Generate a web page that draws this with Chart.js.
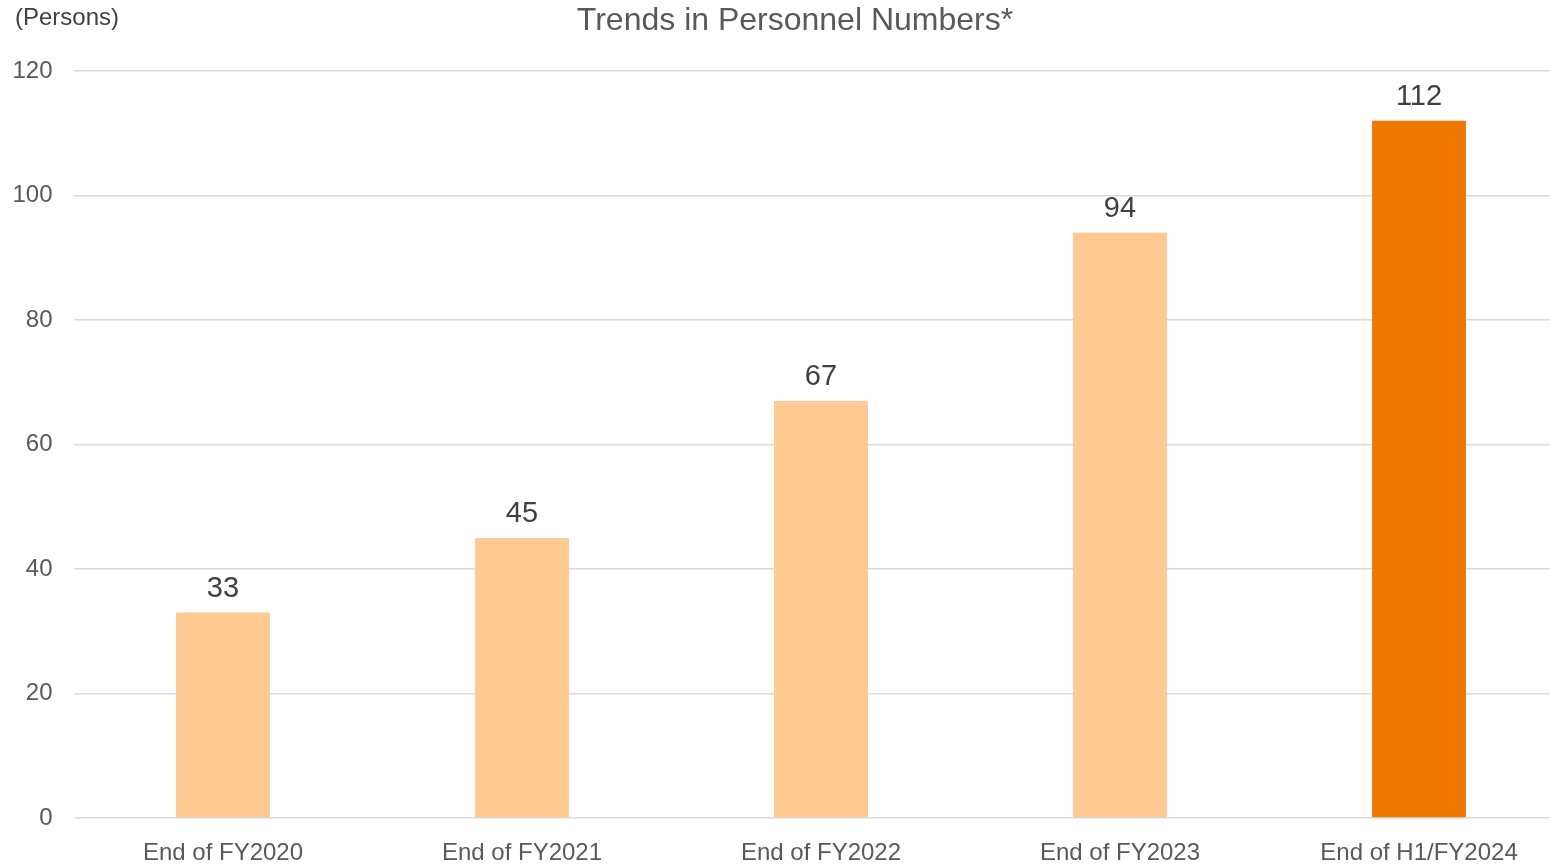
<!DOCTYPE html>
<html>
<head>
<meta charset="utf-8">
<script src="https://cdn.jsdelivr.net/npm/chart.js@4/dist/chart.umd.min.js"></script>
<style>
  html, body { margin: 0; padding: 0; background: #fff; }
  #wrap { width: 1550px; height: 864px; position: relative; }
</style>
</head>
<body>
<div id="wrap"><canvas id="c"></canvas></div>
<script>
const categories = ['End of FY2020', 'End of FY2021', 'End of FY2022', 'End of FY2023', 'End of H1/FY2024'];
const personnel = [33, 45, 67, 94, 112];
const barColors = ['#FFC992', '#FFC992', '#FFC992', '#FFC992', '#EE7700'];
const yTicks = [0, 20, 40, 60, 80, 100, 120];
const titleText = 'Trends in Personnel Numbers*';
const unitText = '(Persons)';

const FONT = '"Liberation Sans", Arial, sans-serif';
const CATEGORY_WIDTH = 299;

// The category band runs a little past the right edge of the canvas
const widenX = {
  id: 'widenX',
  afterLayout(chart) {
    const x = chart.scales.x;
    x.right = x.left + CATEGORY_WIDTH * categories.length;
    x.width = x.right - x.left;
    x.configure();
  }
};

// Value labels above each bar and the header texts
const annotate = {
  id: 'annotate',
  afterDatasetsDraw(chart) {
    const ctx = chart.ctx;
    ctx.save();
    ctx.fillStyle = '#404040';
    ctx.font = '29px ' + FONT;
    ctx.textAlign = 'center';
    ctx.textBaseline = 'alphabetic';
    chart.getDatasetMeta(0).data.forEach((bar, i) => {
      ctx.fillText(String(personnel[i]), bar.x, bar.y - 16);
    });
    ctx.fillStyle = '#595959';
    ctx.font = '32px ' + FONT;
    ctx.textBaseline = 'middle';
    ctx.fillText(titleText, 795, 21);
    ctx.fillStyle = '#404040';
    ctx.font = '24px ' + FONT;
    ctx.textAlign = 'left';
    ctx.fillText(unitText, 15, 18);
    ctx.restore();
  }
};

new Chart(document.getElementById('c'), {
  type: 'bar',
  data: {
    labels: categories,
    datasets: [{
      data: personnel,
      backgroundColor: barColors,
      borderWidth: 0,
      categoryPercentage: 1,
      barPercentage: 0.314
    }]
  },
  options: {
    responsive: true,
    maintainAspectRatio: false,
    animation: false,
    layout: { padding: { top: 71, right: 0, bottom: 0, left: 0 } },
    plugins: {
      legend: { display: false },
      title: { display: false },
      tooltip: { enabled: false }
    },
    scales: {
      x: {
        grid: { display: false },
        border: { display: false },
        ticks: {
          color: '#595959',
          font: { family: FONT, size: 24 },
          padding: 13,
          maxRotation: 0,
          autoSkip: false
        },
        afterFit(scale) { scale.height = 46; }
      },
      y: {
        min: 0,
        max: 120,
        afterBuildTicks(scale) { scale.ticks = yTicks.map(v => ({ value: v })); },
        grid: { color: '#D9D9D9', lineWidth: 1.5, drawTicks: false },
        border: { display: false },
        ticks: {
          color: '#595959',
          font: { family: FONT, size: 24 },
          padding: 21
        },
        afterFit(scale) { scale.width = 73.5; }
      }
    }
  },
  plugins: [widenX, annotate]
});
</script>
</body>
</html>
